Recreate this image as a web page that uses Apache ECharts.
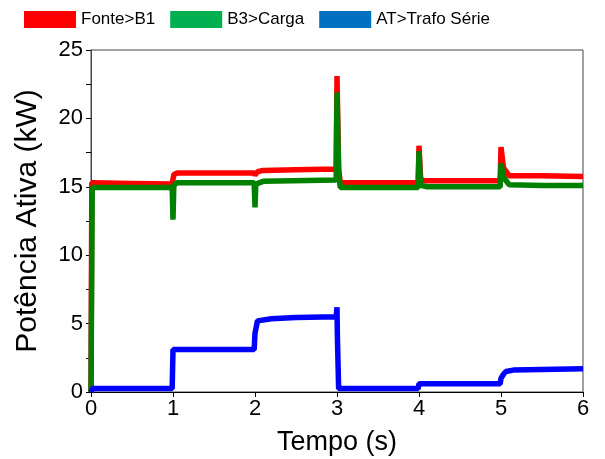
<!DOCTYPE html>
<html lang="pt">
<head>
    <meta charset="UTF-8">
    <title>Potência Ativa</title>
    <script src="https://cdn.jsdelivr.net/npm/echarts@6/dist/echarts.min.js"></script>
    <style>
        html, body { margin: 0; padding: 0; background: #fff; }
    </style>
</head>
<body>
<div id="box" style="width: 605px;height:459px;"></div>
<script>
    // dados: [tempo (s), potência (kW)]
    var fonteB1 = [
        [0, 0], [0.01, 15.3], [0.5, 15.25], [0.99, 15.2], [1.0, 15.2], [1.01, 15.9], [1.05, 16.0],
        [1.99, 16.0], [2.0, 15.85], [2.03, 16.1], [2.1, 16.2], [2.5, 16.25], [2.99, 16.3],
        [3.0, 23.1], [3.02, 16.3], [3.04, 15.3], [3.5, 15.3], [3.99, 15.3], [4.0, 18.0],
        [4.02, 15.6], [4.05, 15.45], [4.99, 15.45], [5.0, 17.9], [5.03, 16.4], [5.1, 15.8],
        [5.5, 15.8], [6, 15.75]
    ];
    var b3Carga = [
        [0, 0], [0.015, 14.95], [0.99, 14.95], [1.0, 12.6], [1.01, 15.1], [1.05, 15.3],
        [1.99, 15.3], [2.0, 13.5], [2.01, 15.2], [2.1, 15.4], [2.99, 15.5], [3.0, 21.9],
        [3.02, 16.0], [3.04, 14.95], [3.99, 14.95], [4.0, 17.6], [4.02, 15.1], [4.1, 15.0],
        [4.99, 15.0], [5.0, 16.7], [5.03, 15.7], [5.1, 15.15], [5.5, 15.1], [6, 15.1]
    ];
    var atTrafo = [
        [0, 0], [0.02, 0.25], [0.99, 0.25], [1.0, 3.1], [1.99, 3.1], [2.0, 4.3], [2.03, 5.2],
        [2.2, 5.35], [2.5, 5.45], [2.99, 5.5], [3.0, 6.2], [3.005, 4.0], [3.02, 0.25],
        [3.99, 0.25], [4.0, 0.6], [4.99, 0.6], [5.0, 1.0], [5.03, 1.3], [5.06, 1.5],
        [5.15, 1.6], [6, 1.7]
    ];
    var nomes = ['Fonte>B1', 'B3>Carga', 'AT>Trafo Série'];
    var coresLinha = ['#ff0000', '#008000', '#0000ff'];
    var coresLegenda = ['#ff0000', '#00b050', '#0070c0'];

    var myChart = echarts.init(document.getElementById('box'));
    var fonte = 'Arial, "Liberation Sans", sans-serif';

    function serie(i, dados) {
        return {
            name: nomes[i],
            type: 'line',
            data: dados,
            showSymbol: false,
            symbol: 'none',
            animation: false,
            lineStyle: {width: 5.5, color: coresLinha[i]},
            itemStyle: {color: coresLinha[i]}
        };
    }

    var option = {
        animation: false,
        legend: {
            left: 19,
            top: 6,
            icon: 'rect',
            itemWidth: 52,
            itemHeight: 17,
            itemGap: 15,
            textStyle: {fontSize: 17, color: '#000', fontFamily: fonte},
            data: nomes.map(function (n, i) {
                return {name: n, itemStyle: {color: coresLegenda[i]}};
            })
        },
        grid: {
            left: 91,
            right: 22,
            top: 50,
            bottom: 67,
            outerBoundsMode: 'none',
            show: true,
            borderColor: '#444',
            borderWidth: 1
        },
        xAxis: {
            type: 'value',
            min: 0,
            max: 6,
            interval: 1,
            name: 'Tempo (s)',
            nameLocation: 'middle',
            nameGap: 37,
            nameTextStyle: {fontSize: 27, color: '#000', fontFamily: fonte},
            axisLine: {lineStyle: {color: '#000', width: 1}},
            axisTick: {show: true, inside: false, length: 5, lineStyle: {color: '#000'}},
            axisLabel: {fontSize: 22, color: '#000', fontFamily: fonte, margin: 6},
            splitLine: {show: false}
        },
        yAxis: {
            type: 'value',
            min: 0,
            max: 25,
            interval: 5,
            name: 'Potência Ativa (kW)',
            nameLocation: 'middle',
            nameGap: 48,
            nameTextStyle: {fontSize: 30, color: '#000', fontFamily: fonte},
            axisLine: {show: true, lineStyle: {color: '#444', width: 1}},
            axisTick: {show: true, inside: false, length: 5, lineStyle: {color: '#000'}},
            minorTick: {show: true, splitNumber: 2, length: 5, lineStyle: {color: '#000'}},
            axisLabel: {fontSize: 22, color: '#000', fontFamily: fonte, margin: 8},
            splitLine: {show: false}
        },
        series: [
            serie(0, fonteB1),
            serie(1, b3Carga),
            serie(2, atTrafo)
        ]
    };
    myChart.setOption(option);
</script>
</body>
</html>
